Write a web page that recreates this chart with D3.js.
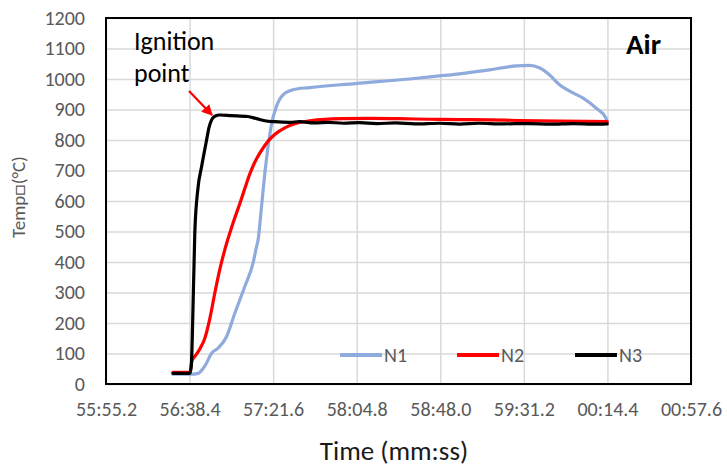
<!DOCTYPE html>
<html>
<head>
<meta charset="utf-8">
<script src="https://cdn.jsdelivr.net/npm/d3@7"></script>
<style>
  html, body { margin: 0; padding: 0; background: #fff; }
  svg { display: block; font-family: Carlito, Lato, "Open Sans", sans-serif; }
</style>
</head>
<body>
<svg id="chart" width="727" height="467"></svg>
<script>
// Time is stored as seconds into the hour (mm:ss); values past 3600 roll over to the next hour.
const xTicks = [3355.2, 3398.4, 3441.6, 3484.8, 3528.0, 3571.2, 3614.4, 3657.6];
const xTickLabels = ["55:55.2", "56:38.4", "57:21.6", "58:04.8", "58:48.0", "59:31.2", "00:14.4", "00:57.6"];
const yTicks = [0, 100, 200, 300, 400, 500, 600, 700, 800, 900, 1000, 1100, 1200];
const seriesNames = ["N1", "N2", "N3"];

// Thermocouple N1
const n1 = [
  [3389.8, 32], [3398.6, 32], [3402.8, 35], [3405.5, 52], [3407.2, 69], [3409.7, 100],
  [3413.2, 118], [3417.5, 155], [3421.8, 232], [3426.9, 319], [3431.2, 396], [3433.0, 450],
  [3433.8, 472], [3435.6, 582], [3437.3, 691], [3439.0, 779], [3440.7, 850], [3443.3, 910],
  [3446.7, 948], [3451.9, 965], [3460.5, 972], [3484.2, 985], [3512.1, 1000], [3527.6, 1010],
  [3537.9, 1017], [3553.4, 1030], [3567.2, 1043], [3574.0, 1045], [3579.2, 1037],
  [3584.4, 1014], [3589.5, 982], [3596.4, 955], [3601.6, 938], [3608.5, 905], [3613.6, 872],
  [3614.3, 862]
];

// Thermocouple N2
const n2 = [
  [3389.8, 38], [3398.6, 38], [3399.6, 75], [3401.65, 95], [3403.7, 115], [3406.3, 150],
  [3408.9, 215], [3411.5, 300], [3414.0, 375], [3416.6, 440], [3419.2, 495], [3421.8, 545],
  [3424.4, 592], [3426.9, 640], [3429.5, 688], [3432.1, 727], [3434.7, 757], [3437.3, 782],
  [3439.8, 802], [3442.4, 818], [3447.6, 840], [3452.7, 853], [3460.5, 863], [3477.5, 870],
  [3492.0, 871], [3507.0, 870], [3522.0, 868], [3538.0, 867], [3553.0, 866], [3569.0, 864],
  [3590.0, 862], [3614.3, 860]
];

// Thermocouple N3
const n3 = [
  [3389.8, 35], [3398.6, 35], [3399.3, 60], [3399.8, 150], [3401.1, 495], [3402.7, 640],
  [3404.6, 712], [3407.2, 800], [3408.4, 840], [3409.8, 866], [3411.5, 878], [3414.0, 882],
  [3420.0, 880], [3428.5, 877], [3433.0, 870], [3437.3, 863], [3442.4, 860], [3450.0, 858],
  [3455.3, 860], [3463.0, 856], [3470.0, 858], [3478.0, 855], [3486.3, 857], [3495.0, 854],
  [3505.0, 856], [3515.0, 853], [3527.6, 855], [3538.0, 852], [3548.0, 855], [3560.0, 853],
  [3574.0, 854], [3585.0, 852], [3597.0, 854], [3607.0, 852], [3614.3, 853]
];

const seriesColors = ["#8FAADC", "#FF0000", "#000000"];
const seriesData = [n1, n2, n3];

const svg = d3.select("#chart");
const plot = { left: 106, right: 691, top: 18, bottom: 384 };

const x = d3.scaleLinear().domain([xTicks[0], xTicks[xTicks.length - 1]]).range([plot.left, plot.right]);
const y = d3.scaleLinear().domain([0, 1200]).range([plot.bottom, plot.top]);

// Gridlines
svg.append("g")
  .attr("transform", `translate(0,${plot.bottom})`)
  .call(d3.axisBottom(x).tickValues(xTicks).tickSize(-(plot.bottom - plot.top)).tickFormat(""))
  .call(g => g.select(".domain").remove())
  .call(g => g.selectAll("line").attr("stroke", "#D9D9D9").attr("stroke-width", 1.5));

svg.append("g")
  .attr("transform", `translate(${plot.left},0)`)
  .call(d3.axisLeft(y).tickValues(yTicks).tickSize(-(plot.right - plot.left)).tickFormat(""))
  .call(g => g.select(".domain").remove())
  .call(g => g.selectAll("line").attr("stroke", "#D9D9D9").attr("stroke-width", 1.5));

// Tick labels
svg.append("g")
  .attr("transform", `translate(0,${plot.bottom})`)
  .call(d3.axisBottom(x).tickValues(xTicks).tickSize(0).tickPadding(18)
    .tickFormat((d, i) => xTickLabels[i]))
  .call(g => g.select(".domain").remove())
  .call(g => g.selectAll("text").attr("fill", "#595959").style("font-size", "20px")
    .style("font-family", "Carlito, Lato, sans-serif"));

svg.append("g")
  .attr("transform", `translate(${plot.left},0)`)
  .call(d3.axisLeft(y).tickValues(yTicks).tickSize(0).tickPadding(21).tickFormat(d3.format("d")))
  .call(g => g.select(".domain").remove())
  .call(g => g.selectAll("text").attr("fill", "#595959").style("font-size", "20px")
    .style("font-family", "Carlito, Lato, sans-serif"));

// Series lines
const line = d3.line().x(d => x(d[0])).y(d => y(d[1])).curve(d3.curveMonotoneX);
seriesData.forEach((data, i) => {
  svg.append("path")
    .datum(data)
    .attr("fill", "none")
    .attr("stroke", seriesColors[i])
    .attr("stroke-width", 3.2)
    .attr("stroke-linejoin", "round")
    .attr("stroke-linecap", "round")
    .attr("d", line);
});

// Plot border
svg.append("rect")
  .attr("x", plot.left).attr("y", plot.top)
  .attr("width", plot.right - plot.left).attr("height", plot.bottom - plot.top)
  .attr("fill", "none").attr("stroke", "#000").attr("stroke-width", 2);

// Legend
const legendX = [340, 457, 575];
const legendY = 355;
seriesNames.forEach((name, i) => {
  svg.append("line")
    .attr("x1", legendX[i]).attr("x2", legendX[i] + 42)
    .attr("y1", legendY).attr("y2", legendY)
    .attr("stroke", seriesColors[i]).attr("stroke-width", 4);
  svg.append("text")
    .attr("x", legendX[i] + 44).attr("y", legendY + 7)
    .attr("fill", "#595959").style("font-size", "20px")
    .text(name);
});

// Axis titles
svg.append("text")
  .attr("x", 394).attr("y", 460)
  .attr("text-anchor", "middle")
  .attr("fill", "#1a1a1a").style("font-size", "27px")
  .text("Time (mm:ss)");

svg.append("text")
  .attr("transform", "translate(25,197) rotate(-90)")
  .attr("text-anchor", "middle")
  .attr("fill", "#595959").style("font-size", "19px")
  .text("Temp\u25A1(°C)");

// Atmosphere label
svg.append("text")
  .attr("x", 626).attr("y", 54)
  .attr("fill", "#000").style("font-size", "29px").style("font-weight", "bold")
  .text("Air");

// Ignition annotation
svg.append("text")
  .attr("x", 134).attr("y", 50)
  .attr("fill", "#000").style("font-size", "26px")
  .text("Ignition");
svg.append("text")
  .attr("x", 134).attr("y", 82)
  .attr("fill", "#000").style("font-size", "26px")
  .text("point");

svg.append("defs").append("marker")
  .attr("id", "arrowhead")
  .attr("viewBox", "0 0 10 10")
  .attr("refX", 9).attr("refY", 5)
  .attr("markerWidth", 5).attr("markerHeight", 5)
  .attr("markerUnits", "strokeWidth")
  .attr("orient", "auto")
  .append("path").attr("d", "M0,0 L10,5 L0,10 Z").attr("fill", "#FF0000");

svg.append("line")
  .attr("x1", 189).attr("y1", 91)
  .attr("x2", 212).attr("y2", 115)
  .attr("stroke", "#FF0000").attr("stroke-width", 2.2)
  .attr("marker-end", "url(#arrowhead)");
</script>
</body>
</html>
